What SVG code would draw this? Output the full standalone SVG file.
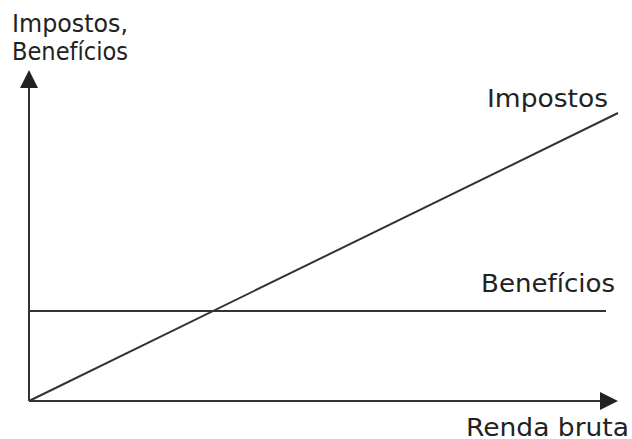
<svg xmlns="http://www.w3.org/2000/svg" width="632" height="439" viewBox="0 0 632 439">
<style>
text{font-family:"DejaVu Sans","Liberation Sans",sans-serif;font-size:24px;fill:#222}
.ln{stroke:#333;stroke-width:2;fill:none}
</style>
<rect width="632" height="439" fill="#fff"/>
<g id="axes">
<path class="ln" d="M29,401 V88"/>
<polygon points="29,70 20,88 38,88" fill="#222"/>
<path class="ln" d="M29,401 H600"/>
<polygon points="618,401 600,392 600,410" fill="#222"/>
</g>
<g id="connectors">
<path class="ln" d="M29,311 H606"/>
<path class="ln" d="M29,401 L618,113"/>
</g>
<g id="labels">
<text x="12" y="32" textLength="116" lengthAdjust="spacingAndGlyphs">Impostos,</text>
<text x="12" y="60" textLength="116" lengthAdjust="spacingAndGlyphs">Benefícios</text>
<text x="487" y="107" textLength="121" lengthAdjust="spacingAndGlyphs">Impostos</text>
<text x="481" y="292" textLength="134" lengthAdjust="spacingAndGlyphs">Benefícios</text>
<text x="466" y="436" textLength="163" lengthAdjust="spacingAndGlyphs">Renda bruta</text>
</g>
</svg>
